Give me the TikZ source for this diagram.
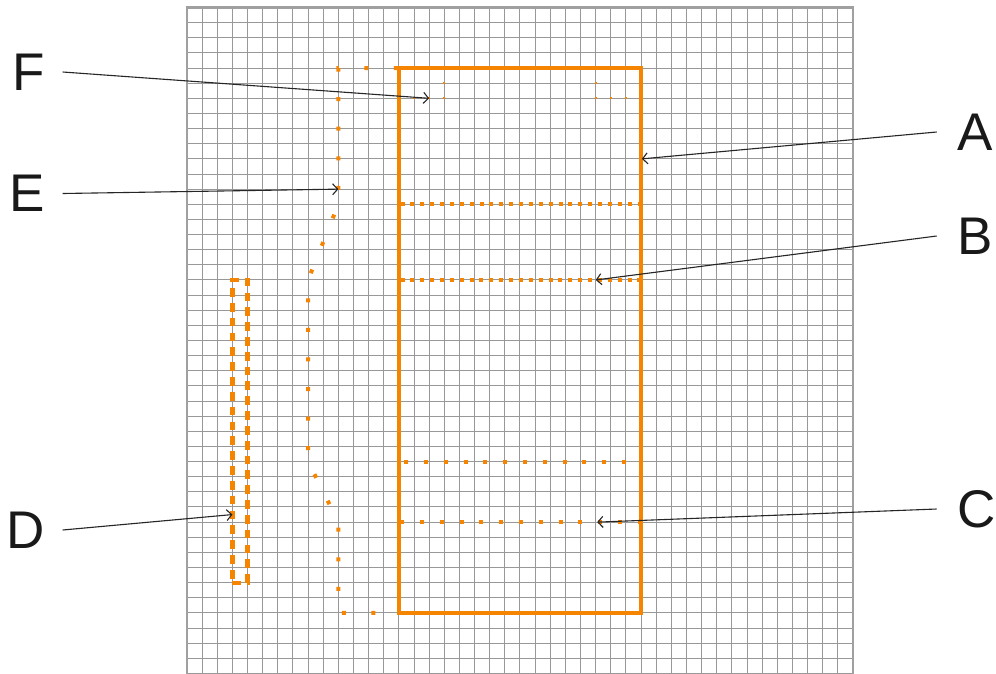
\documentclass[tikz,border=0pt]{standalone}
\usepackage{fontspec}
\setmainfont{Liberation Sans}
\usetikzlibrary{arrows.meta}
\definecolor{org}{RGB}{245,132,0}
\definecolor{gridc}{RGB}{152,152,152}
\definecolor{framec}{RGB}{160,160,160}
\begin{document}
\begin{tikzpicture}[x=1pt,y=-1pt,
 gridline/.style={draw=gridc, line width=1pt},
 frameline/.style={draw=framec, line width=2.8pt},
 solidbox/.style={draw=org, line width=4.5pt},
 densedots/.style={draw=org, line width=4pt, dash pattern=on 4pt off 5.87pt, dash phase=8.27pt},
 sparsedots/.style={draw=org, line width=4pt, dash pattern=on 4pt off 15.78pt, dash phase=18.38pt},
 dashbox/.style={draw=org, line width=4.2pt, dash pattern=on 8.7pt off 6.13pt},
 wavedots/.style={draw=org, line width=4pt, dash pattern=on 4pt off 25.57pt, dash phase=28.64pt},
 tinydots/.style={draw=org, line width=2pt, dash pattern=on 2pt off 13.136pt, dash phase=1pt},
 lab/.style={font=\fontsize{53}{60}\selectfont, text=black!90, inner ysep=0pt},
 leftlab/.style={lab, anchor=east, inner xsep=18pt},
 rightlab/.style={lab, anchor=west, inner xsep=21pt},
 pointer/.style={draw=black!85, line width=1.1pt, -{Straight Barb[length=5pt,width=11pt]}}
]
\useasboundingbox (0,0) rectangle (996,673);
\fill[white] (0,0) rectangle (996,673);
\begin{scope}
\clip (0,0) rectangle (996,673);
\begin{scope}[shift={(187,7.5)}, x=15.136pt, y=-15.136pt]
  % grid
  \foreach \i in {1,...,43} \draw[gridline] (\i,0) -- (\i,45);
  \foreach \j in {1,...,44} \draw[gridline] (0,\j) -- (44,\j);
  \draw[frameline] (0,45) -- (0,0) -- (44,0) -- (44,45);
  % shapes
  \draw[solidbox] (14,4) -- (30,4) -- (30,40) -- (14,40) -- cycle;
  \draw[densedots] (14,18) -- (30,18) -- (30,13) -- (14,13) -- cycle;
  \draw[sparsedots] (14,34) -- (30,34) -- (30,30) -- (14,30) -- cycle;
  \draw[dashbox] (3,38) -- (4,38) -- (4,18) -- (3,18) -- cycle;
  \draw[wavedots] (14,4) -- (10,4) -- (10,13) -- (8,18) -- (8,30) -- (10,34) -- (10,40) -- (14,40);
  \draw[tinydots] (14,6) -- (17,6) -- (17,4) -- (27,4) -- (27,6) -- (30,6);
  % arrow targets
  \coordinate (tA) at (30.05,10);
  \coordinate (tB) at (27,18);
  \coordinate (tC) at (27.1,34);
  \coordinate (tD) at (3,33.5);
  \coordinate (tE) at (10,12);
  \coordinate (tF) at (16,6);
\end{scope}
\end{scope}
% labels
\node[leftlab] (F) at (62.7,72) {F};
\node[leftlab] (E) at (62.7,193.5) {E};
\node[leftlab] (D) at (62.7,530) {D};
\node[rightlab] (A) at (936.7,132) {A};
\node[rightlab] (B) at (936.7,236) {B};
\node[rightlab] (C) at (936.7,509) {C};
% connectors
\draw[pointer] (F.east) -- (tF);
\draw[pointer] (E.east) -- (tE);
\draw[pointer] (D.east) -- (tD);
\draw[pointer] (A.west) -- (tA);
\draw[pointer] (B.west) -- (tB);
\draw[pointer] (C.west) -- (tC);
\end{tikzpicture}
\end{document}
